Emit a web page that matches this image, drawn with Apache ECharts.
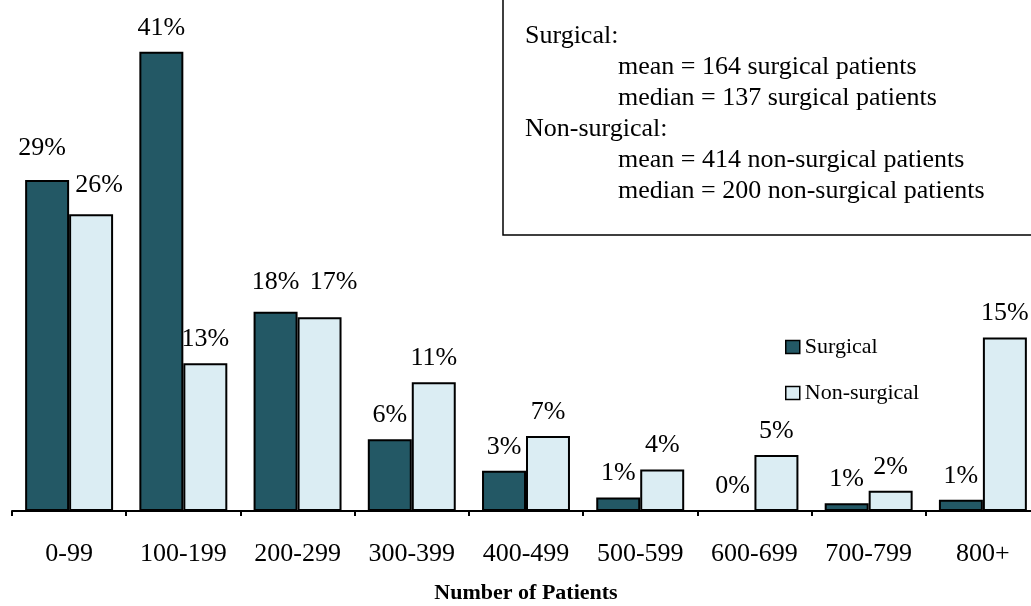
<!DOCTYPE html>
<html>
<head>
<meta charset="utf-8">
<script src="https://cdn.jsdelivr.net/npm/echarts@6/dist/echarts.min.js"></script>
<style>
  html, body { margin: 0; padding: 0; background: #fff; }
  #chart { width: 1031px; height: 606px; }
</style>
</head>
<body>
<div id="chart"></div>
<script>
var categories = ['0-99', '100-199', '200-299', '300-399', '400-499', '500-599', '600-699', '700-799', '800+'];
var surgical = [29.55, 41, 17.8, 6.4, 3.6, 1.2, 0, 0.7, 1.0];
var nonSurgical = [26.5, 13.2, 17.3, 11.5, 6.7, 3.7, 5.0, 1.8, 15.5];
var surgicalLabels = ['29%', '41%', '18%', '6%', '3%', '1%', '0%', '1%', '1%'];
var nonSurgicalLabels = ['26%', '13%', '17%', '11%', '7%', '4%', '5%', '2%', '15%'];
var seriesNames = ['Surgical', 'Non-surgical'];
var boxLines = [
    ['Surgical:', 0],
    ['mean = 164 surgical patients', 1],
    ['median = 137 surgical patients', 1],
    ['Non-surgical:', 0],
    ['mean = 414 non-surgical patients', 1],
    ['median = 200 non-surgical patients', 1]
];

(function() {
    var serif = '"Liberation Serif", "Times New Roman", serif';
    var dark = '#235865';
    var light = '#dbedf3';

    // a few labels sit a little off the bar top in the original
    var nudge = { 's0': [-5, -8], 'n0': [8, -5], 's2': [0, -5], 'n2': [14, -11] };

    function build(values, labels, key) {
        return values.map(function(v, i) {
            var item = { value: v, label: { formatter: labels[i] } };
            var off = nudge[key + i];
            if (off) item.label.offset = off;
            return item;
        });
    }

    var graphics = [{
        type: 'rect',
        shape: { x: 503, y: -1, width: 560, height: 236 },
        style: { fill: '#fff', stroke: '#000', lineWidth: 1.5 }
    }];
    boxLines.forEach(function(l, i) {
        graphics.push({
            type: 'text',
            x: l[1] ? 618 : 525,
            y: 36 + i * 31,
            style: { text: l[0], font: '26px ' + serif, fill: '#000', verticalAlign: 'middle' }
        });
    });

    var chart = echarts.init(document.getElementById('chart'), null, { renderer: 'canvas' });
    chart.setOption({
        animation: false,
        grid: { left: 12, top: 7, bottom: 95, width: 1028, outerBoundsMode: 'none', containLabel: false },
        legend: {
            orient: 'vertical', left: 785, top: 336, padding: 0,
            icon: 'rect', itemWidth: 14, itemHeight: 13, itemGap: 24,
            textStyle: { fontFamily: serif, fontSize: 22, color: '#000' },
            itemStyle: { borderWidth: 1.5 },
            data: seriesNames
        },
        xAxis: {
            type: 'category', data: categories,
            axisLine: { lineStyle: { color: '#000', width: 2 } },
            axisTick: { show: true, alignWithLabel: false, length: 5, lineStyle: { color: '#000', width: 2 } },
            axisLabel: { color: '#000', fontFamily: serif, fontSize: 26, margin: 30 },
            name: 'Number of Patients', nameLocation: 'middle', nameGap: 71,
            nameTextStyle: { color: '#000', fontFamily: serif, fontSize: 22, fontWeight: 'bold' }
        },
        yAxis: { type: 'value', min: 0, max: 45, show: false, splitLine: { show: false } },
        series: [{
            name: seriesNames[0], type: 'bar', barGap: 0, barCategoryGap: '23%',
            data: build(surgical, surgicalLabels, 's'),
            itemStyle: { color: dark, borderColor: '#000', borderWidth: 2 },
            label: { show: true, position: 'top', distance: 11, color: '#000', fontFamily: serif, fontSize: 26 }
        }, {
            name: seriesNames[1], type: 'bar', barGap: 0, barCategoryGap: '23%',
            data: build(nonSurgical, nonSurgicalLabels, 'n'),
            itemStyle: { color: light, borderColor: '#000', borderWidth: 2 },
            label: { show: true, position: 'top', distance: 11, color: '#000', fontFamily: serif, fontSize: 26 }
        }],
        graphic: graphics
    });
    window.addEventListener('resize', function() { chart.resize(); });
})();
</script>
</body>
</html>
